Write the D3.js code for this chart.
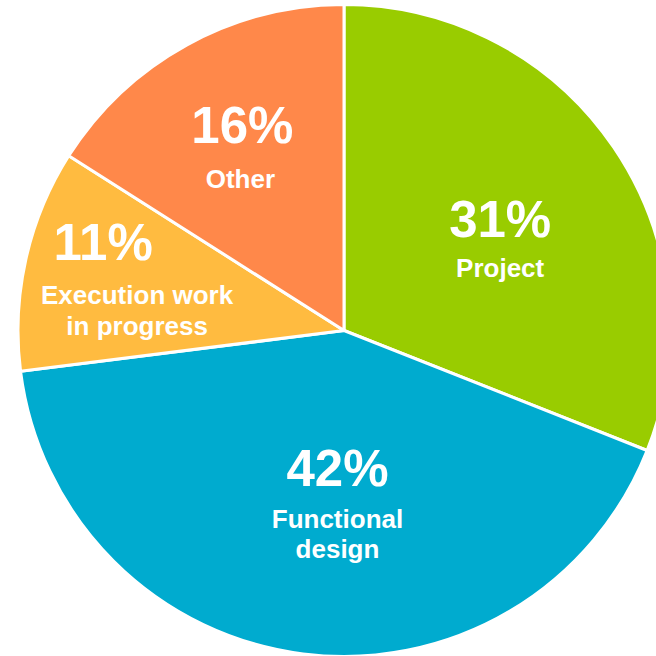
<!DOCTYPE html>
<html><head><meta charset="utf-8">
<script src="https://cdn.jsdelivr.net/npm/d3@7/dist/d3.min.js"></script>
<style>html,body{margin:0;padding:0;background:#fff;overflow:hidden}</style>
</head><body><svg id="c" width="656" height="656"></svg>
<script>
const categories = ["Project", "Functional design", "Execution work in progress", "Other"];
const values = [31, 42, 11, 16];
const nameLines = [["Project"], ["Functional", "design"], ["Execution work", "in progress"], ["Other"]];
const colors = ["#99cc00", "#00abcf", "#ffbb40", "#ff884a"];

// label layout: [angle(deg, clockwise from top), radius] for percent baseline, name offset dx,dy
const pctPolar = [[59.1, 182], [182.4, 155.6], [286.3, 251], [331.5, 213]];
const nameOffset = [[0, 40], [0, 42], [34, 44], [-2, 45]];

const svg = d3.select("#c");
const cx = 344, cy = 330.5, R = 326;
const g = svg.append("g").attr("transform", `translate(${cx},${cy})`);

const pie = d3.pie().sort(null).value(d => d)(values);
const arc = d3.arc().innerRadius(0).outerRadius(R);

g.selectAll("path").data(pie).join("path")
  .attr("d", arc)
  .attr("fill", (d, i) => colors[i])
  .attr("stroke", "#fff").attr("stroke-width", 3).attr("stroke-linejoin", "round");

pie.forEach((d, i) => {
  const a = pctPolar[i][0] * Math.PI / 180, r = pctPolar[i][1];
  const x = r * Math.sin(a), y = -r * Math.cos(a);
  const total = d3.sum(values);
  g.append("text").attr("x", x).attr("y", y)
    .attr("text-anchor", "middle")
    .attr("font-family", "'Liberation Sans', Arial, sans-serif")
    .attr("font-weight", "bold").attr("font-size", 51).attr("fill", "#fff")
    .text(Math.round(values[i] / total * 100) + "%");
  nameLines[i].forEach((line, j) => {
    g.append("text")
      .attr("x", x + nameOffset[i][0])
      .attr("y", y + nameOffset[i][1] + j * 30.5)
      .attr("text-anchor", "middle")
      .attr("font-family", "'Liberation Sans', Arial, sans-serif")
      .attr("font-weight", "bold").attr("font-size", 26).attr("fill", "#fff")
      .text(line);
  });
});
</script></body></html>
